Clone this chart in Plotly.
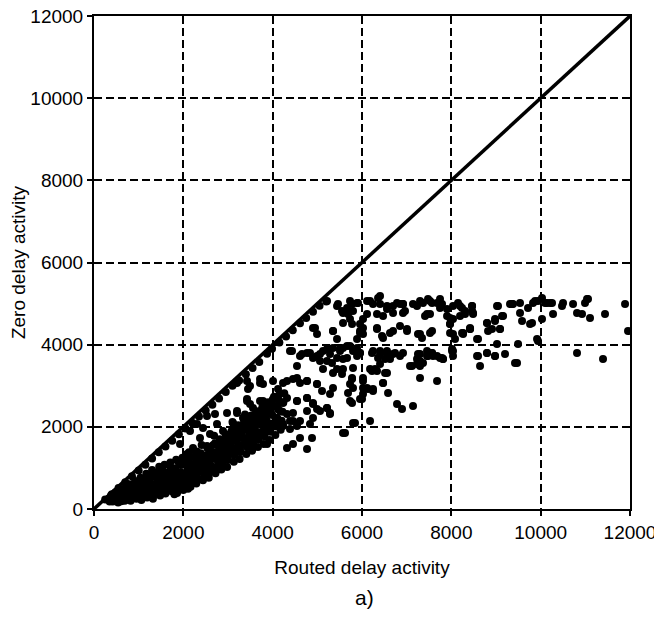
import plotly.graph_objects as go

# Reference line y = x
line_x = [0, 12000]
line_y = [0, 12000]

# Points lying just under the diagonal
diag_x = [250, 400, 550, 700, 850, 1000, 1150, 1300, 1450, 1600, 1750, 1900, 2050, 2200, 2350, 2500,
          2650, 2800, 2950, 3100, 3250, 3400, 3550, 3700, 3874, 3986, 4150, 4300, 4450, 4612, 4750,
          4903, 5050, 5200]
diag_y = [230, 360, 510, 650, 800, 940, 1080, 1230, 1380, 1520, 1660, 1820, 1960, 2100, 2250, 2400,
          2540, 2690, 2850, 3000, 3130, 3280, 3430, 3580, 3780, 3900, 4050, 4200, 4350, 4520, 4650,
          4800, 4950, 5050]

# Dense lower-left cloud
dense_x = [320, 380, 420, 460, 480, 520, 560, 590, 610, 640, 670, 700, 720, 760, 780, 800, 820, 860, 880,
           900, 920, 950, 980, 1000, 1020, 1040, 1060, 1090, 1110, 1130, 1150, 1170, 1190, 1220, 1240,
           1260, 1280, 1300, 1320, 1350, 1370, 1390, 1410, 1430, 1460, 1480, 1500, 1520, 1540, 1560,
           1580, 1600, 1620, 1650, 1670, 1690, 1710, 1740, 1760, 1780, 1800, 1820, 1840, 1860, 1880,
           1900, 1920, 1940, 1960, 1980, 2000, 2030, 2050, 2070, 2090, 2110, 2130, 2160, 2180, 2200,
           2220, 2240, 2260, 2290, 2310, 2330, 2350, 2370, 2390, 2410, 2440, 2460, 2480, 2500, 2520,
           2540, 2570, 2590, 2610, 2630, 2650, 2670, 2690, 2720, 2740, 2760, 2780, 2800, 2820, 2850,
           2870, 2890, 2910, 2930, 2950, 2980, 3000, 3020, 3040, 3060, 3080, 3100, 3130, 3150, 3170,
           3190, 3210, 3230, 3260, 3280, 3300, 3320, 3340, 3360, 3380, 3410, 3430, 3450, 3470, 3490,
           3510, 3540, 3560, 3580, 3600, 3620, 3640, 3670, 3690, 3710, 3730, 3750, 3770, 3800, 3820,
           3840, 3860, 3880, 3900, 3930, 3950, 3970, 3990, 4010, 4030, 4060, 4080, 4100, 4120, 4140,
           4180, 4200, 4220, 4240, 4260, 1770, 1800, 2105]
dense_y = [240, 330, 180, 290, 400, 230, 340, 460, 190, 270, 390, 520, 230, 320, 450, 600, 200, 300, 410,
           530, 680, 250, 360, 470, 610, 760, 220, 330, 440, 560, 700, 860, 280, 390, 510, 640, 790,
           950, 250, 350, 470, 590, 720, 880, 1030, 330, 450, 570, 700, 850, 1080, 380, 490, 620, 760,
           910, 1130, 430, 560, 700, 840, 990, 1200, 390, 500, 630, 760, 900, 1080, 1250, 460, 580,
           720, 870, 1020, 1180, 1380, 540, 680, 820, 960, 1100, 1280, 620, 760, 900, 1040, 1200, 1360,
           1560, 700, 850, 1000, 1150, 1310, 1480, 760, 910, 1060, 1210, 1380, 1560, 1780, 870, 1030,
           1190, 1350, 1520, 1700, 960, 1110, 1270, 1430, 1610, 1820, 1020, 1190, 1350, 1520, 1700,
           1900, 2120, 1150, 1320, 1480, 1650, 1840, 2040, 1220, 1390, 1560, 1730, 1920, 2120, 2300,
           1340, 1510, 1690, 1870, 2070, 2270, 1420, 1600, 1780, 1960, 2160, 2380, 1510, 1690, 1870,
           2060, 2260, 2480, 1580, 1770, 1960, 2160, 2370, 2600, 1680, 1880, 2080, 2290, 2500, 2730,
           1800, 2010, 2220, 2430, 2650, 1930, 2150, 2370, 2600, 2820, 440, 360, 490]

# Extra points filling the dense cloud
fill_x = [350, 430, 500, 540, 600, 660, 690, 740, 790, 840, 870, 930, 970, 990, 1030, 1080, 1120, 1160,
          1200, 1230, 1270, 1310, 1340, 1380, 1420, 1450, 1490, 1530, 1570, 1610, 1640, 1680, 1720,
          1770, 1810, 1850, 1890, 1930, 1970, 2010, 2060, 2100, 2140, 2190, 2230, 2270, 2300, 2340,
          2380, 2420, 2470, 2510, 2550, 2600, 2640, 2680, 2710, 2750, 2790, 2830, 2880, 2920, 2960,
          3010, 3050, 3090, 3140, 3180, 3220, 3270, 3310, 3350, 3400, 3440, 3480, 3530, 3570, 3610,
          3660, 3700, 3740, 3790, 3830, 3870, 3920, 3960, 4000, 4070, 4110, 4160]
fill_y = [180, 250, 350, 160, 400, 320, 200, 420, 260, 360, 550, 420, 300, 560, 400, 650, 290, 600,
          450, 720, 330, 550, 850, 400, 640, 800, 520, 950, 420, 700, 880, 560, 1000, 640, 920, 700,
          1150, 560, 830, 1100, 660, 950, 1250, 760, 1050, 880, 1400, 720, 1120, 950, 1250, 820, 1100,
          1400, 950, 1250, 1600, 980, 1420, 1150, 1550, 1200, 1700, 1300, 1600, 1800, 1400, 1750, 1950,
          1500, 1800, 2050, 1600, 1950, 2200, 1700, 2050, 2300, 1800, 2150, 2400, 1900, 2250, 2500,
          2000, 2350, 2650, 2100, 2500, 2800]

# Points near the diagonal region 2000-3800 and the 2000-3000 band
lower_x = [2530, 2709, 2978, 3202, 3426, 3493, 3717, 3717, 3493, 3202, 2306, 2150, 2441, 2754, 2373,
           2597, 2888, 3202, 3426, 3650, 1926, 2217, 2530, 2821, 3112, 3426, 3717, 2082, 2373, 2664,
           2978, 3269, 3560, 3874, 3426, 3717, 3784, 4008, 4232, 4455, 4612, 4769, 4993, 3448, 4120,
           5105, 5284, 3426, 3784, 4008, 4232, 4545, 4769, 4903, 3560, 3941, 4165, 4455, 4769, 4993,
           5217, 5284, 3202, 3336, 3717, 4098, 4388, 4612, 4903, 3112, 3493, 3784, 4232, 4545, 4836,
           3202, 3560, 3941, 4388, 4321, 4545, 4769, 4993, 4321, 4545, 4769, 4903, 5060, 5217, 5284,
           4321, 4455, 4232, 4612, 4881, 4455, 4321, 4769]
lower_y = [2264, 2312, 2336, 2385, 2677, 2556, 2629, 3067, 2994, 3067, 2069, 1899, 1972, 2069, 1728,
           1826, 1899, 1972, 2142, 2069, 1582, 1485, 1533, 1606, 1655, 1728, 1826, 1339, 1290, 1339,
           1363, 1412, 1485, 1582, 3116, 3164, 3043, 3116, 3067, 3164, 3067, 3116, 3043, 2921, 2921,
           2872, 2799, 2629, 2629, 2677, 2580, 2629, 2702, 2580, 2458, 2434, 2385, 2336, 2385, 2434,
           2458, 2336, 2336, 2215, 2264, 2191, 2142, 2142, 2215, 2093, 2069, 2069, 2020, 2020, 2069,
           1947, 1947, 1972, 1947, 3116, 3189, 3116, 3043, 2702, 2629, 2702, 2556, 2385, 2458, 2312,
           2312, 2142, 2069, 1728, 1728, 1582, 1485, 1460]

# Middle band (about 3000-4000)
mid_x = [4388, 4612, 4769, 4903, 5060, 5217, 5351, 5508, 5665, 5799, 5956, 5217, 5441, 5665, 5889,
         6224, 6404, 6560, 6739, 6627, 6404, 6180, 6336, 6560, 6023, 6113, 6247, 6471, 6784, 6896,
         7142, 7075, 7232, 7299, 7456, 7568, 7680, 7814, 7299, 7680, 5777, 5799, 6023, 5956, 5732,
         5799, 5575, 5351, 5553, 5351, 5127, 5575, 5732, 5889, 5956, 6247, 6404, 6560, 6695, 6851,
         6359, 6516, 7254, 7366, 7120, 7299, 7478, 7568, 7747, 7814, 8038, 5575, 5799, 5777, 5732,
         5687, 6023, 6023, 6135, 6247, 6224, 6292, 6471, 6583, 6516, 6001, 5777, 5844, 6180, 5620,
         4433, 4657, 4836, 4993, 5127, 5284, 5508, 5575, 5329, 5060, 4545, 5441, 6918, 7299, 7456,
         7590, 7792, 7232]
mid_y = [3846, 3724, 3797, 3675, 3773, 3894, 3919, 3846, 3967, 3846, 3797, 3602, 3675, 3675, 3724,
         3797, 3773, 3846, 3797, 3651, 3529, 3408, 3359, 3310, 3189, 2945, 2921, 3067, 2556, 2434,
         2507, 3481, 3529, 3602, 3724, 3797, 3724, 3651, 3189, 3116, 3189, 2945, 2799, 2677, 2629,
         2093, 1850, 2945, 3286, 3310, 3408, 3919, 3967, 3919, 3797, 3846, 3846, 3773, 3773, 3724,
         3675, 3651, 3773, 3554, 3481, 3481, 3724, 3797, 3675, 3651, 3846, 3408, 3432, 3164, 3043,
         2823, 3116, 2945, 2921, 2872, 3359, 3408, 3067, 2823, 3310, 2677, 2580, 2093, 2142, 1850,
         3846, 3773, 3797, 3724, 3846, 3773, 3894, 3651, 3554, 3602, 3481, 3408, 3797, 3773, 3846,
         3724, 3675, 3651]

# Upper band (about 4000-5200), x 4900-8500
upper_x = [5441, 5553, 5665, 5777, 5889, 5687, 5777, 5956, 6180, 6359, 6404, 6560, 6695, 6851, 6963,
           6113, 6336, 5956, 6023, 6336, 6471, 6695, 7008, 7232, 7366, 7523, 7680, 7792, 7456, 7523,
           7254, 7904, 7971, 8038, 8240, 8464, 8486, 8262, 8038, 8419, 8016, 5351, 4948, 4993, 5217,
           5463, 5732, 5911, 5575, 5799, 6113, 6404, 6247, 6560, 6784, 6918, 6695, 6471, 6023, 5732,
           5575, 6023, 6336, 6627, 6851, 4903, 5351, 5441, 5889, 5956, 6448, 6918, 6918, 7142, 7299,
           7478, 7568, 7747, 7747, 7904, 7411, 7523, 7971, 8038, 7971, 8150, 8195, 8307, 8464, 7008,
           7299, 7344, 7568, 7971, 8083, 8240, 8419, 8598]
upper_y = [4941, 4819, 4892, 4990, 5014, 4746, 4503, 4503, 5063, 5136, 4990, 4868, 4941, 4990, 4819,
           4746, 4746, 4333, 4260, 4381, 4162, 4333, 4333, 4941, 5014, 5063, 5014, 4990, 4746, 4284,
           4260, 4698, 4503, 4941, 4892, 4941, 4746, 4260, 4260, 4381, 3846, 4333, 4406, 4260, 5063,
           4990, 5063, 5014, 4771, 4819, 5063, 5185, 4990, 4941, 5014, 4990, 4771, 4698, 4625, 4625,
           4527, 4406, 4406, 4284, 4454, 4406, 4333, 4138, 4138, 4284, 4211, 4990, 4771, 4990, 5063,
           5112, 5014, 5112, 4892, 4868, 4698, 4746, 4649, 4625, 4503, 5014, 4698, 4819, 4819, 4381,
           4260, 4162, 4333, 4284, 4138, 4284, 4406, 4138]

# Sparse right-hand region, x 8000-12000
right_x = [8195, 8307, 8464, 8486, 8262, 8419, 8576, 8799, 8911, 8978, 9090, 9158, 9045, 9314, 9381,
           9538, 9538, 9583, 9762, 9717, 9829, 9941, 10030, 10142, 10254, 10030, 10277, 10478, 10501,
           10725, 10814, 10926, 11038, 10993, 11105, 11441, 11889, 11956, 9941, 9494, 9202, 8978,
           8799, 8576, 8643, 9023, 9471, 10814, 11396, 8799, 9023, 8978, 9135, 8822, 9090, 8016, 8038,
           8799, 8978, 8598, 9359, 9807, 9874, 10098, 10210, 11060, 9919, 9426]
right_y = [4941, 4746, 4941, 4771, 4284, 4381, 4138, 4527, 4381, 4576, 4381, 4698, 4941, 4990, 4990,
           5014, 4771, 4576, 4503, 4892, 5014, 5063, 5136, 5014, 5014, 4625, 4746, 4941, 5014, 4990,
           4771, 4746, 5112, 5014, 4649, 4746, 4990, 4333, 4089, 4016, 3773, 3724, 3797, 3724, 3481,
           4016, 3554, 3797, 3651, 4527, 4941, 4625, 4698, 4333, 4381, 3894, 3724, 3797, 3724, 3724,
           4990, 4527, 5063, 5014, 5014, 5112, 4138, 3554]

tick_vals = [0, 2000, 4000, 6000, 8000, 10000, 12000]
tick_text = ["0", "2000", "4000", "6000", "8000", "10000", "12000"]

pts_x = diag_x + dense_x + fill_x + lower_x + mid_x + upper_x + right_x
pts_y = diag_y + dense_y + fill_y + lower_y + mid_y + upper_y + right_y

FONT = "Liberation Sans, Arial, Helvetica, sans-serif"

fig = go.Figure()
fig.add_trace(go.Scatter(x=line_x, y=line_y, mode="lines",
                         line=dict(color="black", width=3.5), showlegend=False, hoverinfo="skip"))
fig.add_trace(go.Scatter(x=pts_x, y=pts_y, mode="markers",
                         marker=dict(color="black", size=8, line=dict(width=0)),
                         showlegend=False))

axis_common = dict(
    range=[0, 12000], tickvals=tick_vals, ticktext=tick_text,
    showline=True, mirror=True, linecolor="black", linewidth=2,
    ticks="outside", ticklen=5, tickwidth=1.5, tickcolor="black",
    showgrid=True, gridcolor="black", gridwidth=1.5, griddash="8px,4px",
    zeroline=False, tickfont=dict(family=FONT, size=19, color="black"),
    automargin=False, ticklabeloverflow="allow",
)

fig.update_xaxes(**axis_common,
                 title=dict(text="Routed delay activity", font=dict(family=FONT, size=19, color="black"),
                            standoff=19))
fig.update_yaxes(**axis_common,
                 title=dict(text="Zero delay activity", font=dict(family=FONT, size=19, color="black"),
                            standoff=8))

fig.add_annotation(text="a)", xref="paper", yref="paper", x=0.505, y=-0.18,
                   xanchor="center", yanchor="middle", showarrow=False,
                   font=dict(family=FONT, size=21, color="black"))

fig.update_layout(
    width=662, height=618,
    margin=dict(l=86, r=40, t=8, b=117),
    plot_bgcolor="white", paper_bgcolor="white",
    font=dict(family=FONT, color="black"),
)

fig.write_html("out.html")
